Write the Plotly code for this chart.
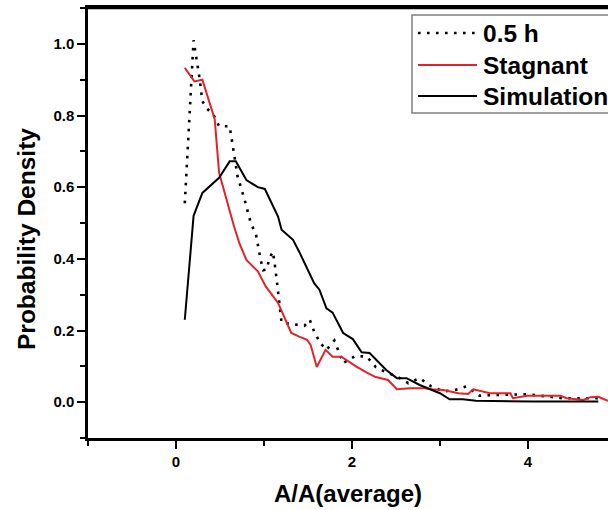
import plotly.graph_objects as go

# ---- data ----
half_h_x = [0.10, 0.20, 0.27, 0.30, 0.35, 0.43, 0.49, 0.61, 0.70, 0.78, 0.85, 0.91,
            0.96, 0.99, 1.03, 1.06, 1.10, 1.12, 1.15, 1.17, 1.20, 1.46, 1.52, 1.57,
            1.64, 1.71, 1.80, 1.85, 1.90, 2.04, 2.17, 2.27, 2.39, 2.51, 2.64, 2.77,
            2.90, 3.04, 3.17, 3.30, 3.45, 3.59, 3.99, 4.40, 4.80]
half_h_y = [0.555, 1.01, 0.90, 0.84, 0.82, 0.80, 0.77, 0.77, 0.63, 0.565, 0.50, 0.467,
            0.40, 0.368, 0.37, 0.40, 0.42, 0.39, 0.33, 0.29, 0.222, 0.213, 0.23, 0.197,
            0.165, 0.146, 0.172, 0.141, 0.109, 0.129, 0.127, 0.098, 0.083, 0.072, 0.053, 0.067,
            0.044, 0.030, 0.034, 0.044, 0.018, 0.020, 0.022, 0.011, 0.011]

stagnant_x = [0.10, 0.21, 0.30, 0.40, 0.44, 0.49, 0.55, 0.66, 0.72, 0.80, 0.93, 1.02,
              1.16, 1.23, 1.31, 1.40, 1.49, 1.53, 1.60, 1.70, 1.78, 1.88, 2.05, 2.18,
              2.27, 2.41, 2.51, 2.66, 2.83, 2.90, 3.04, 3.21, 3.32, 3.38, 3.57, 3.80,
              3.83, 3.99, 4.37, 4.44, 4.52, 4.63, 4.71, 4.80, 4.91]
stagnant_y = [0.933, 0.895, 0.90, 0.826, 0.79, 0.64, 0.585, 0.49, 0.444, 0.397, 0.365, 0.323,
              0.277, 0.239, 0.193, 0.183, 0.174, 0.160, 0.098, 0.146, 0.127, 0.127, 0.099, 0.081,
              0.070, 0.062, 0.036, 0.039, 0.039, 0.036, 0.034, 0.025, 0.023, 0.036, 0.025, 0.025,
              0.011, 0.018, 0.018, 0.011, 0.008, 0.006, 0.014, 0.015, 0.004]

simulation_x = [0.10, 0.20, 0.30, 0.49, 0.61, 0.68, 0.80, 0.93, 1.01, 1.16, 1.20, 1.33,
                1.40, 1.57, 1.63, 1.71, 1.78, 1.90, 2.01, 2.11, 2.20, 2.39, 2.51, 2.62,
                2.77, 3.00, 3.11, 3.26, 3.41, 4.06, 4.80]
simulation_y = [0.23, 0.52, 0.584, 0.626, 0.672, 0.672, 0.62, 0.60, 0.595, 0.518, 0.481, 0.453,
                0.42, 0.332, 0.314, 0.262, 0.25, 0.193, 0.176, 0.139, 0.137, 0.090, 0.067, 0.067,
                0.048, 0.025, 0.008, 0.008, 0.004, 0.002, 0.002]

series_names = ["0.5 h", "Stagnant", "Simulation"]
x_title = "A/A(average)"
y_title = "Probability Density"

# ---- layout geometry ----
W, H = 608, 510
ML, MR, MT, MB = 88, 0, 8, 72
PW, PH = W - ML - MR, H - MT - MB
FONT = "Arial, Liberation Sans, Helvetica, sans-serif"
RED = "#e3232a"


def px_x(px):
    return (px - ML) / PW


def px_y(py):
    return (H - MB - py) / PH


DOT = "2.6px,6.4px"

fig = go.Figure()
fig.add_trace(go.Scatter(x=half_h_x, y=half_h_y, mode="lines", name=series_names[0],
                         line=dict(color="black", width=2.6, dash=DOT), showlegend=False))
fig.add_trace(go.Scatter(x=stagnant_x, y=stagnant_y, mode="lines", name=series_names[1],
                         line=dict(color=RED, width=2), showlegend=False))
fig.add_trace(go.Scatter(x=simulation_x, y=simulation_y, mode="lines", name=series_names[2],
                         line=dict(color="black", width=2), showlegend=False))

# ---- manual legend (box, samples, labels) ----
shapes = [dict(type="rect", xref="paper", yref="paper",
               x0=px_x(412), x1=px_x(640), y0=px_y(113), y1=px_y(15),
               line=dict(color="#7f7f7f", width=1.5), fillcolor="white", layer="above"),
          # top frame line (mirror of the x axis)
          dict(type="line", xref="paper", yref="paper", x0=0, x1=1, y0=1, y1=1,
               line=dict(color="black", width=2.5), layer="above")]
annotations = []
legend_rows = [(33, dict(color="black", width=2.6, dash=DOT)),
               (65, dict(color=RED, width=2)),
               (96, dict(color="black", width=2))]
for name, (py, ln) in zip(series_names, legend_rows):
    shapes.append(dict(type="line", xref="paper", yref="paper",
                       x0=px_x(418), x1=px_x(477), y0=px_y(py), y1=px_y(py),
                       line=ln, layer="above"))
    annotations.append(dict(text=name, xref="paper", yref="paper",
                            x=px_x(481), y=px_y(py), xanchor="left", yanchor="middle",
                            showarrow=False,
                            font=dict(family=FONT, size=24.5, color="black", weight="bold")))

# y-axis title (placed slightly below the plot centre, as in the reference)
annotations.append(dict(text=y_title, xref="paper", yref="paper",
                        x=px_x(26), y=px_y(239), xanchor="center", yanchor="middle",
                        textangle=-90, showarrow=False,
                        font=dict(family=FONT, size=24.5, color="black", weight="bold")))

axis_common = dict(showline=True, linecolor="black", linewidth=2.5, showgrid=False,
                   zeroline=False, ticks="outside", ticklen=8, tickwidth=2,
                   tickcolor="black",
                   tickfont=dict(family=FONT, size=15, color="black", weight="bold"))

fig.update_layout(
    width=W, height=H,
    margin=dict(l=ML, r=MR, t=MT, b=MB, autoexpand=False),
    paper_bgcolor="white", plot_bgcolor="white",
    showlegend=False,
    shapes=shapes,
    annotations=annotations,
    xaxis=dict(**axis_common, range=[-1, 4.91], mirror=True, tick0=0, dtick=2,
               minor=dict(ticks="outside", ticklen=5, tickwidth=2, tickcolor="black",
                          tick0=0, dtick=1),
               title=dict(text=x_title, standoff=17,
                          font=dict(family=FONT, size=24, color="black", weight="bold"))),
    yaxis=dict(**axis_common, range=[-0.1, 1.1], mirror=False, tick0=0, dtick=0.2,
               tickformat=".1f",
               minor=dict(ticks="outside", ticklen=5, tickwidth=2, tickcolor="black",
                          tick0=0, dtick=0.1)),
)

fig.write_html("out.html", config={"displayModeBar": False},
               post_script="document.body.style.margin='0';document.body.style.overflow='hidden';")
